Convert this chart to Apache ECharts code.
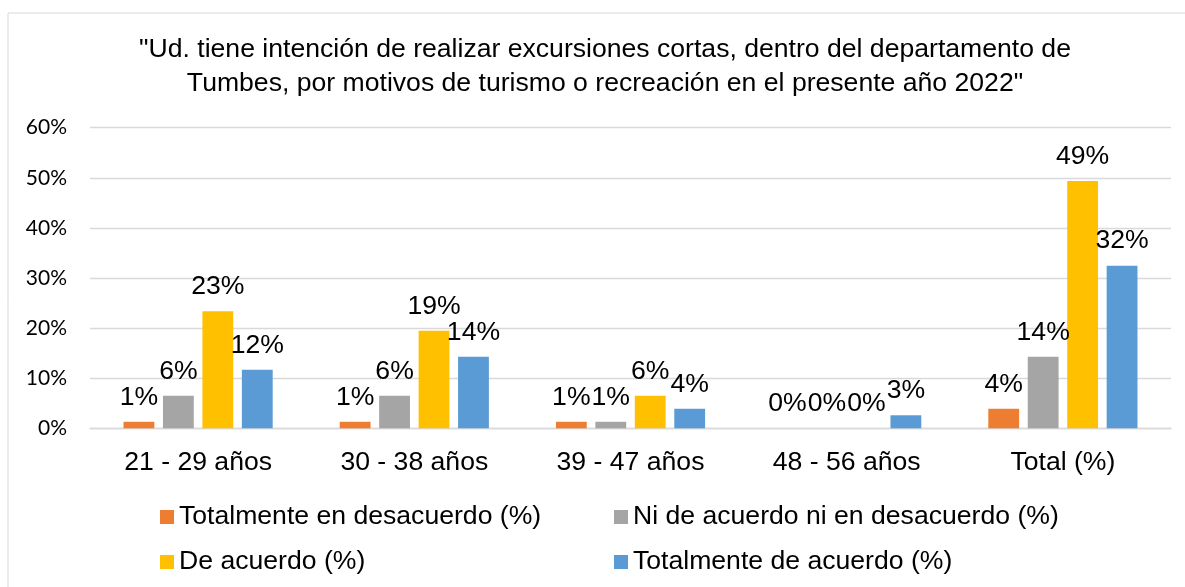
<!DOCTYPE html>
<html>
<head>
<meta charset="utf-8">
<script src="https://cdn.jsdelivr.net/npm/echarts@6/dist/echarts.min.js"></script>
<style>
html,body{margin:0;padding:0;background:#fff;}
#chart{width:1185px;height:587px;}
</style>
</head>
<body>
<div id="chart"></div>
<script>
const titleText = '"Ud. tiene intención de realizar excursiones cortas, dentro del departamento de\nTumbes, por motivos de turismo o recreación en el presente año 2022"';
const categories = ['21 - 29 años', '30 - 38 años', '39 - 47 años', '48 - 56 años', 'Total (%)'];
const seriesNames = ['Totalmente en desacuerdo (%)', 'Ni de acuerdo ni en desacuerdo (%)', 'De acuerdo (%)', 'Totalmente de acuerdo (%)'];
const totDesacuerdo = [1.30, 1.30, 1.30, 0, 3.90];
const niNi = [6.49, 6.49, 1.30, 0, 14.29];
const deAcuerdo = [23.38, 19.48, 6.49, 0, 49.35];
const totAcuerdo = [11.69, 14.29, 3.90, 2.60, 32.47];
const yTicks = [0, 10, 20, 30, 40, 50, 60];
const colors = ['#ED7D31', '#A5A5A5', '#FFC000', '#5B9BD5'];

const values = [totDesacuerdo, niNi, deAcuerdo, totAcuerdo];
const FONT = '"Liberation Sans", Arial, sans-serif';
const FS = 26.6;

const chart = echarts.init(document.getElementById('chart'), null, {renderer: 'canvas'});

function legendAt(name, left, top) {
  return {
    data: [name], left: left, top: top, padding: 0,
    itemWidth: 14, itemHeight: 14, icon: 'rect', itemGap: 0,
    textStyle: {fontFamily: FONT, fontSize: FS, color: '#000', lineHeight: 30, padding: [0, 0, 0, 0]}
  };
}

chart.setOption({
  backgroundColor: '#fff',
  animation: false,
  color: colors,
  graphic: [{
    type: 'rect', shape: {x: 8, y: 13, width: 1200, height: 600},
    style: {fill: 'none', stroke: '#D9D9D9', lineWidth: 1}, silent: true, z: -1
  }],
  title: {
    text: titleText, left: 600, top: 28, textAlign: 'center',
    textStyle: {fontFamily: FONT, fontSize: FS, fontWeight: 'normal', color: '#000', lineHeight: 34}
  },
  legend: [
    legendAt(seriesNames[0], 160, 502),
    legendAt(seriesNames[1], 614, 502),
    legendAt(seriesNames[2], 160, 547),
    legendAt(seriesNames[3], 614, 547)
  ],
  grid: {left: 90, right: 14, top: 127.7, bottom: 158.7, containLabel: false},
  xAxis: {
    type: 'category', data: categories,
    axisLine: {lineStyle: {color: '#D9D9D9', width: 1.3}},
    axisTick: {show: false},
    axisLabel: {fontFamily: FONT, fontSize: FS, color: '#000', margin: 21}
  },
  yAxis: {
    type: 'value', min: yTicks[0], max: yTicks[yTicks.length - 1], interval: 10,
    axisLine: {show: false}, axisTick: {show: false},
    splitLine: {lineStyle: {color: '#D9D9D9', width: 1.3}},
    axisLabel: {fontFamily: 'Lato, "Open Sans", sans-serif', fontSize: 21, color: '#000', margin: 23,
      formatter: v => v + '%'}
  },
  series: values.map((vals, i) => ({
    name: seriesNames[i], type: 'bar', data: vals,
    barGap: '28%', barCategoryGap: '31%',
    itemStyle: {color: colors[i]},
    label: {show: true, position: 'top', distance: 11,
      fontFamily: FONT, fontSize: FS, color: '#000',
      formatter: p => Math.round(p.value) + '%'}
  }))
});
</script>
</body>
</html>
